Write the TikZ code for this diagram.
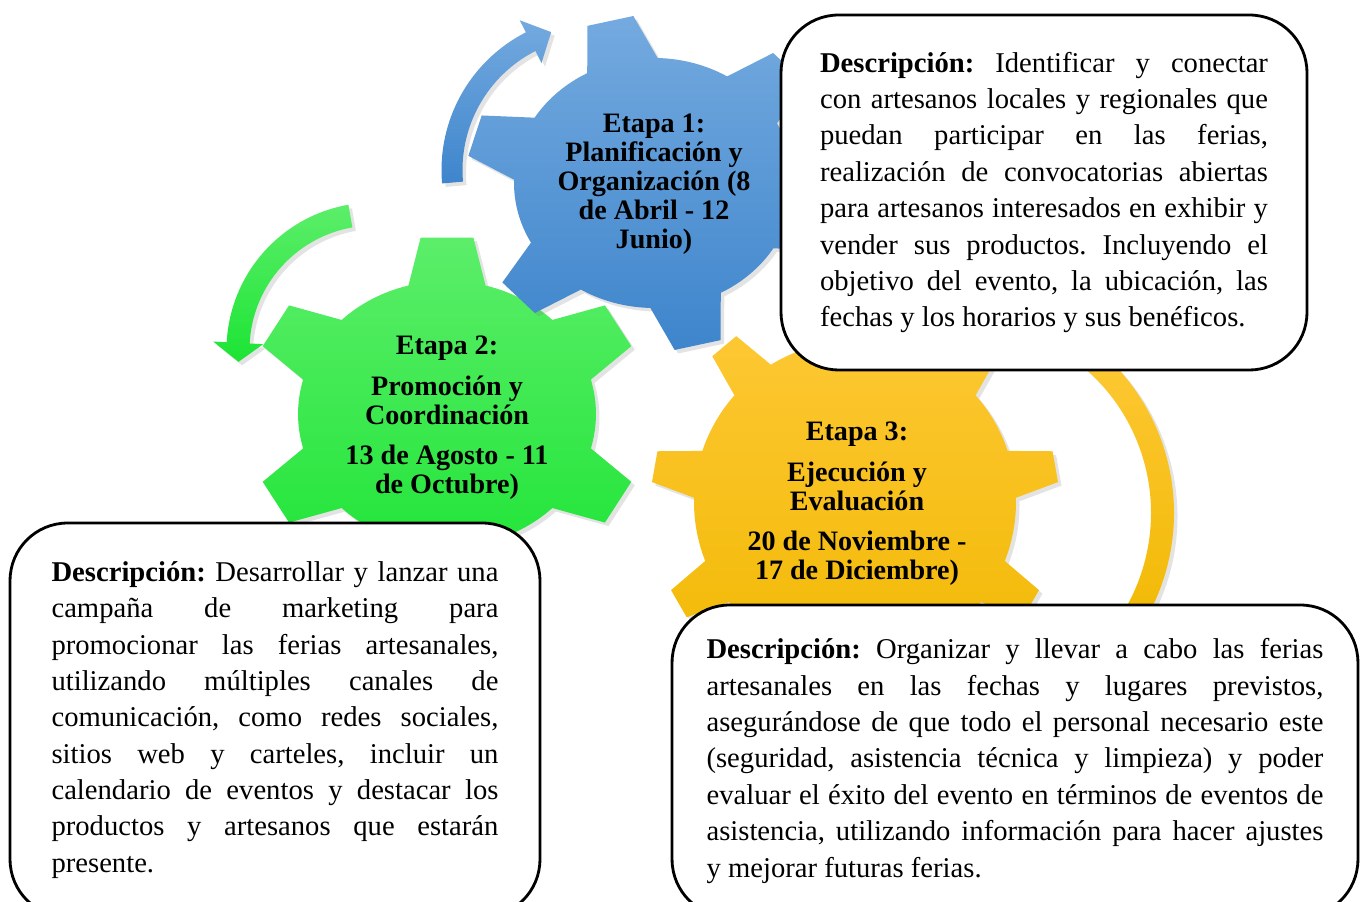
\documentclass[tikz,border=0pt]{standalone}
\usepackage{fontspec}
\setmainfont{Liberation Serif}
\usetikzlibrary{shadows}

\definecolor{bluetop}{RGB}{116,170,223}
\definecolor{bluebot}{RGB}{62,133,204}
\definecolor{greentop}{RGB}{92,238,106}
\definecolor{greenbot}{RGB}{28,228,52}
\definecolor{yellowtop}{RGB}{254,201,56}
\definecolor{yellowbot}{RGB}{241,184,0}

\tolerance=10000
\hyphenpenalty=10000
\frenchspacing

% teeth, first tooth angle, body radius, tip radius, half angle at body, half angle at tip
\newcommand{\gearshape}[6]{({#2+#5}:#3)
  \foreach \k in {1,...,#1} {
    arc[start angle={#2+(\k-1)*360/#1+#5}, end angle={#2+\k*360/#1-#5}, radius=#3]
    -- ({#2+\k*360/#1-#6}:#4) -- ({#2+\k*360/#1+#6}:#4) -- ({#2+\k*360/#1+#5}:#3)
  } -- cycle}

\begin{document}
\begin{tikzpicture}[x=0.02cm, y=0.02cm,
  descbox/.style={draw=black, line width=1.6pt, fill=white, rounded corners=1.15cm,
    align=justify, inner sep=0pt, font=\fontsize{16.3}{20.7}\selectfont},
  geartext/.style={align=center, font=\fontsize{16}{16.5}\selectfont\bfseries},
  softshadow/.style={drop shadow={opacity=0.22, shadow xshift=2pt, shadow yshift=-2pt}}]
\useasboundingbox (0,0) rectangle (1360,902);

% Etapa 3
\begin{scope}[shift={(960,389)}]
\path[softshadow, top color=yellowtop, bottom color=yellowbot]
  (60:214) arc[start angle=60, end angle=-40, radius=214]
  -- (-40:191) arc[start angle=-40, end angle=60, radius=191] -- cycle;
\end{scope}
\begin{scope}[shift={(855,400)}]
\path[softshadow, top color=yellowtop, bottom color=yellowbot] \gearshape{9}{90}{161}{204}{8.5}{4.4};
\end{scope}

% Etapa 2
\begin{scope}[shift={(374,552)}]
\path[softshadow, top color=greentop, bottom color=greenbot]
  (100:147.5) arc[start angle=100, end angle=177, radius=147.5]
  -- (177:161) -- (185:136) -- (177:111)
  -- (177:124.5) arc[start angle=177, end angle=100, radius=124.5] -- cycle;
\end{scope}
\begin{scope}[shift={(447,488)}, xscale=1.12]
\path[softshadow, top color=greentop, bottom color=greenbot] \gearshape{6}{30}{133}{178}{15}{7.6};
\end{scope}

% Etapa 1
\begin{scope}[shift={(596,732)}]
\path[softshadow, top color=bluetop, bottom color=bluebot]
  (185:154.5) arc[start angle=185, end angle=117, radius=154.5]
  -- (117:168) -- (108:145) -- (117:120)
  -- (117:133.5) arc[start angle=117, end angle=185, radius=133.5] -- cycle;
\end{scope}
\begin{scope}[shift={(654,719)}, xscale=1.12]
\path[softshadow, top color=bluetop, bottom color=bluebot] \gearshape{6}{103.5}{125}{168}{15}{7.2};
\end{scope}

\node[geartext] (etapa1) at (654,718) {Etapa 1:\\Planificación y\\Organización (8\\de Abril - 12\\Junio)};
\node[geartext] (etapa2) at (447,484) {Etapa 2:\\[6.5pt]Promoción y\\Coordinación\\[6.5pt]13 de Agosto - 11\\de Octubre)};
\node[geartext] (etapa3) at (857,398) {Etapa 3:\\[6.5pt]Ejecución y\\Evaluación\\[6.5pt]20 de Noviembre -\\17 de Diciembre)};

\node[descbox, minimum width=10.52cm, minimum height=7.1cm, text width=8.96cm] (desc1) at (1044,709.5)
  {\textbf{Descripción:} Identificar y conectar\linebreak
   con artesanos locales y regionales que\linebreak
   puedan participar en las ferias,\linebreak
   realización de convocatorias abiertas\linebreak
   para artesanos interesados en exhibir y\linebreak
   vender sus productos. Incluyendo el\linebreak
   objetivo del evento, la ubicación, las\linebreak
   fechas y los horarios y sus benéficos.};
\node[descbox, minimum width=10.6cm, minimum height=7.88cm, text width=8.94cm] (desc2) at (275,182)
  {\textbf{Descripción:} Desarrollar y lanzar una\linebreak
   campaña de marketing para\linebreak
   promocionar las ferias artesanales,\linebreak
   utilizando múltiples canales de\linebreak
   comunicación, como redes sociales,\linebreak
   sitios web y carteles, incluir un\linebreak
   calendario de eventos y destacar los\linebreak
   productos y artesanos que estarán\linebreak
   presente.};
\node[descbox, minimum width=13.72cm, minimum height=6.24cm, text width=12.34cm] (desc3) at (1015,141)
  {\textbf{Descripción:} Organizar y llevar a cabo las ferias\linebreak
   artesanales en las fechas y lugares previstos,\linebreak
   asegurándose de que todo el personal necesario este\linebreak
   (seguridad, asistencia técnica y limpieza) y poder\linebreak
   evaluar el éxito del evento en términos de eventos de\linebreak
   asistencia, utilizando información para hacer ajustes\linebreak
   y mejorar futuras ferias.};
\end{tikzpicture}
\end{document}
